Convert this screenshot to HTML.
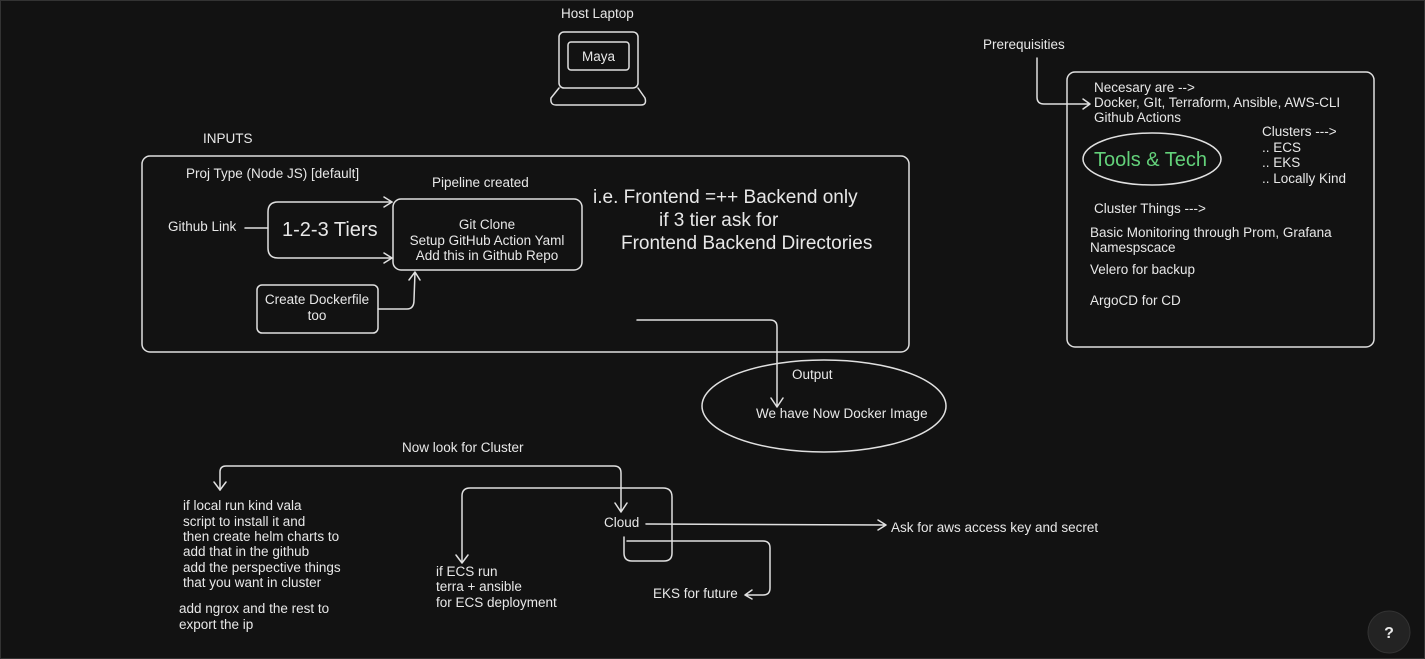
<!DOCTYPE html>
<html><head><meta charset="utf-8"><style>
html,body{margin:0;padding:0;background:#121212;}
svg{display:block}
text{font-family:"Liberation Sans",sans-serif;fill:#e8e8e8;font-size:13.5px}
</style></head><body>
<svg width="1425" height="659" viewBox="0 0 1425 659" xmlns="http://www.w3.org/2000/svg">
<rect x="0.5" y="0.5" width="1424" height="658" fill="#121212" stroke="#333"/>
<g fill="none" stroke="#e0e0e0" stroke-width="1.5" stroke-linecap="round" stroke-linejoin="round">
<rect x="559" y="32" width="79" height="56" rx="5"/>
<rect x="568" y="42" width="61" height="28" rx="3"/>
<path d="M559 88 L551 98 Q550 105 556 105 L641 105 Q647 105 645 98 L638 88"/>
<rect x="142" y="156" width="767" height="196" rx="8"/>
<path d="M392 202 L278 202 Q268 202 268 212 L268 248 Q268 258 278 258 L392 258"/>
<path d="M384 197 L392 202 L384 207 M384 253 L392 258 L384 263"/>
<rect x="393" y="199" width="189" height="71" rx="8"/>
<rect x="257" y="285" width="121" height="48" rx="5"/>
<path d="M245 228 L268 228"/>
<path d="M378 309 L407 309 Q414 309 414 300 L415 272 M409 280 L415 272 L420 280"/>
<rect x="1067" y="72" width="307" height="275" rx="8"/>
<ellipse cx="1152" cy="159" rx="69" ry="26"/>
<path d="M1037 58 L1037 97 Q1037 104 1044 104 L1090 104 M1083 99 L1090 104 L1083 109"/>
<ellipse cx="824" cy="406" rx="122" ry="46"/>
<path d="M637 320 L770 320 Q777 320 777 327 L777 407 M771 398 L777 407 L783 398"/>
<path d="M220 490 L220 472 Q220 466 226 466 L614 466 Q621 466 621 473 L621 512 M615 503 L621 512 L627 503"/>
<path d="M214 482 L220 490 L226 482"/>
<path d="M462 562 L462 496 Q462 488 470 488 L663 488 Q672 488 672 497 L672 553 Q672 561 664 561 L632 561 Q624 561 624 553 L624 537"/>
<path d="M456 555 L462 563 L468 555"/>
<path d="M627 541 L763 541 Q770 541 770 548 L770 588 Q770 595 763 595 L745 595 M752 590 L745 595 L752 599"/>
<path d="M646 524 L885 525 M878 520 L886 525 L878 530"/>
</g>
<circle cx="1389" cy="632" r="21" fill="#232323" stroke="#333"/>
<text x="1389" y="638" text-anchor="middle" style="font-size:16px;font-weight:bold">?</text>
<text x="561" y="18">Host Laptop</text>
<text x="582" y="61">Maya</text>
<text x="203" y="143">INPUTS</text>
<text x="186" y="178">Proj Type (Node JS) [default]</text>
<text x="432" y="187">Pipeline created</text>
<text x="168" y="231">Github Link</text>
<text x="282" y="236" style="font-size:20px">1-2-3 Tiers</text>
<text x="487" y="229" text-anchor="middle">Git Clone</text>
<text x="487" y="245" text-anchor="middle">Setup GitHub Action Yaml</text>
<text x="487" y="260" text-anchor="middle">Add this in Github Repo</text>
<text x="317" y="304" text-anchor="middle">Create Dockerfile</text>
<text x="317" y="320" text-anchor="middle">too</text>
<text x="593" y="203" style="font-size:19px">i.e. Frontend =++ Backend only</text>
<text x="659" y="226" style="font-size:19px">if 3 tier ask for</text>
<text x="621" y="249" style="font-size:19px">Frontend Backend Directories</text>
<text x="983" y="49">Prerequisities</text>
<text x="1094" y="92">Necesary are --&gt;</text>
<text x="1094" y="107">Docker, GIt, Terraform, Ansible, AWS-CLI</text>
<text x="1094" y="122">Github Actions</text>
<text x="1262" y="136">Clusters ---&gt;</text>
<text x="1262" y="152">.. ECS</text>
<text x="1262" y="167">.. EKS</text>
<text x="1262" y="183">.. Locally Kind</text>
<text x="1094" y="166" style="font-size:20px;fill:#63d17a">Tools &amp; Tech</text>
<text x="1094" y="213">Cluster Things ---&gt;</text>
<text x="1090" y="237">Basic Monitoring through Prom, Grafana</text>
<text x="1090" y="252">Namespscace</text>
<text x="1090" y="274">Velero for backup</text>
<text x="1090" y="305">ArgoCD for CD</text>
<text x="792" y="379">Output</text>
<text x="756" y="418">We have Now Docker Image</text>
<text x="402" y="452">Now look for Cluster</text>
<text x="183" y="510">if local run kind vala</text>
<text x="183" y="526">script to install it and</text>
<text x="183" y="541">then create helm charts to</text>
<text x="183" y="556">add that in the github</text>
<text x="183" y="572">add the perspective things</text>
<text x="183" y="587">that you want in cluster</text>
<text x="179" y="613">add ngrox and the rest to</text>
<text x="179" y="629">export the ip</text>
<text x="604" y="527">Cloud</text>
<text x="891" y="532">Ask for aws access key and secret</text>
<text x="436" y="576">if ECS run</text>
<text x="436" y="591">terra + ansible</text>
<text x="436" y="607">for ECS deployment</text>
<text x="653" y="598">EKS for future</text>
</svg>
</body></html>
